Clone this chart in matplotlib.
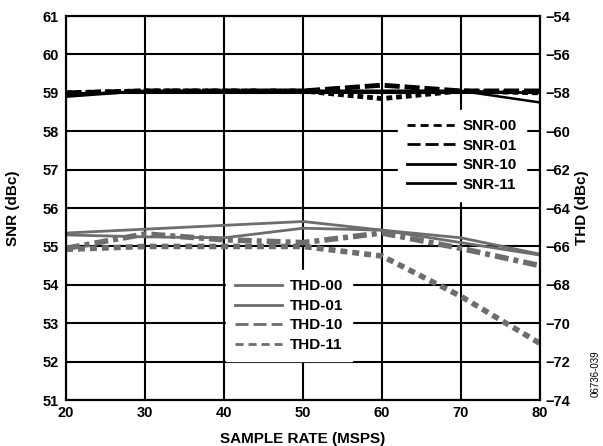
import numpy as np
import matplotlib
matplotlib.use("Agg")
import matplotlib.pyplot as plt
from matplotlib.lines import Line2D

plt.rcParams['font.family'] = ['Liberation Sans', 'DejaVu Sans']
plt.rcParams['font.weight'] = 'bold'
plt.rcParams['axes.unicode_minus'] = True

# sample rate (MSPS)
rate = [20, 30, 40, 50, 60, 70, 80]

# SNR (dBc), left axis
snr_00 = [59.0, 59.05, 59.05, 59.05, 58.85, 59.05, 59.0]
snr_01 = [59.0, 59.05, 59.05, 59.05, 59.2, 59.05, 59.05]
snr_10 = [58.95, 59.05, 59.05, 59.05, 59.05, 59.05, 59.0]
snr_11 = [58.9, 59.05, 59.05, 59.05, 59.05, 59.05, 58.75]

# THD (dBc), right axis
thd_00 = [-65.3, -65.1, -64.9, -64.7, -65.15, -65.55, -66.4]
thd_01 = [-65.4, -65.5, -65.55, -65.05, -65.15, -65.8, -66.45]
thd_10 = [-66.1, -65.35, -65.65, -65.8, -65.3, -66.1, -67.0]
thd_11 = [-66.15, -66.0, -66.0, -66.0, -66.5, -68.6, -71.05]

gray = '#6d6d6d'

# dash patterns (plot lines / legend samples)
dot_snr = (0, (1.2, 0.8))
dash_snr = (0, (3.1, 1.0))
dot_thd = (0, (1.25, 0.9))
dashdot_thd = (0, (2.5, 0.9, 0.9, 0.9))

fig = plt.figure(figsize=(6.03, 4.46), dpi=100)
ax = fig.add_axes([0.1095, 0.103, 0.786, 0.861])
ax2 = ax.twinx()

# SNR curves
ax.plot(rate, snr_00, color='black', lw=3.5, ls=dot_snr)
ax.plot(rate, snr_01, color='black', lw=3.5, ls=dash_snr)
ax.plot(rate, snr_10, color='black', lw=1.8)
ax.plot(rate, snr_11, color='black', lw=1.8)

# THD curves
ax2.plot(rate, thd_00, color=gray, lw=2)
ax2.plot(rate, thd_01, color=gray, lw=2)
ax2.plot(rate, thd_10, color=gray, lw=4, ls=dashdot_thd)
ax2.plot(rate, thd_11, color=gray, lw=4, ls=dot_thd)

ax.set_xlim(20, 80)
ax.set_ylim(51, 61)
ax2.set_ylim(-74, -54)
ax.set_xticks(range(20, 81, 10))
ax.set_yticks(range(51, 62))
ax2.set_yticks(range(-74, -53, 2))

ax.grid(True, color='black', lw=1.5)
ax.tick_params(axis='y', length=0, labelsize=10.5, pad=5)
ax.tick_params(axis='x', length=0, labelsize=10.5, pad=4)
ax2.tick_params(length=0, labelsize=10.5, pad=4)
for a in (ax, ax2):
    for s in a.spines.values():
        s.set_linewidth(1.5)

ax.set_xlabel('SAMPLE RATE (MSPS)', fontsize=11, fontweight='bold')
ax.set_ylabel('SNR (dBc)', fontsize=11, fontweight='bold')
ax2.set_ylabel('THD (dBc)', fontsize=11, fontweight='bold')
ax.xaxis.set_label_coords(0.5, -0.083)
ax.yaxis.set_label_coords(-0.097, 0.5)
ax2.yaxis.set_label_coords(1.074, 0.5)

ax2.set_zorder(ax.get_zorder() + 1)
ax2.patch.set_visible(False)

snr_handles = [
    Line2D([], [], color='black', lw=2, ls=(0, (2.9, 1.8))),
    Line2D([], [], color='black', lw=2, ls=(0, (4.7, 1.8))),
    Line2D([], [], color='black', lw=2),
    Line2D([], [], color='black', lw=2),
]
thd_handles = [
    Line2D([], [], color=gray, lw=2),
    Line2D([], [], color=gray, lw=2),
    Line2D([], [], color=gray, lw=2, ls=(0, (4.7, 1.8))),
    Line2D([], [], color=gray, lw=2, ls=(0, (2.9, 1.8))),
]
snr_labels = ['SNR-00', 'SNR-01', 'SNR-10', 'SNR-11']
thd_labels = ['THD-00', 'THD-01', 'THD-10', 'THD-11']

leg_kw = dict(loc='upper left', fontsize=11, handlelength=3.1,
              handletextpad=0.5, labelspacing=0.36, borderpad=0.6,
              borderaxespad=0, frameon=True, fancybox=False,
              edgecolor='white', framealpha=1)
leg1 = ax2.legend(snr_handles, snr_labels, bbox_to_anchor=(0.701, 0.755), **leg_kw)
ax2.add_artist(leg1)
ax2.legend(thd_handles, thd_labels, bbox_to_anchor=(0.337, 0.338), **leg_kw)

fig.text(0.988, 0.162, '06736-039', rotation=90, fontsize=7, fontweight='normal',
         ha='center', va='center')

fig.savefig('out.png', dpi=100)
